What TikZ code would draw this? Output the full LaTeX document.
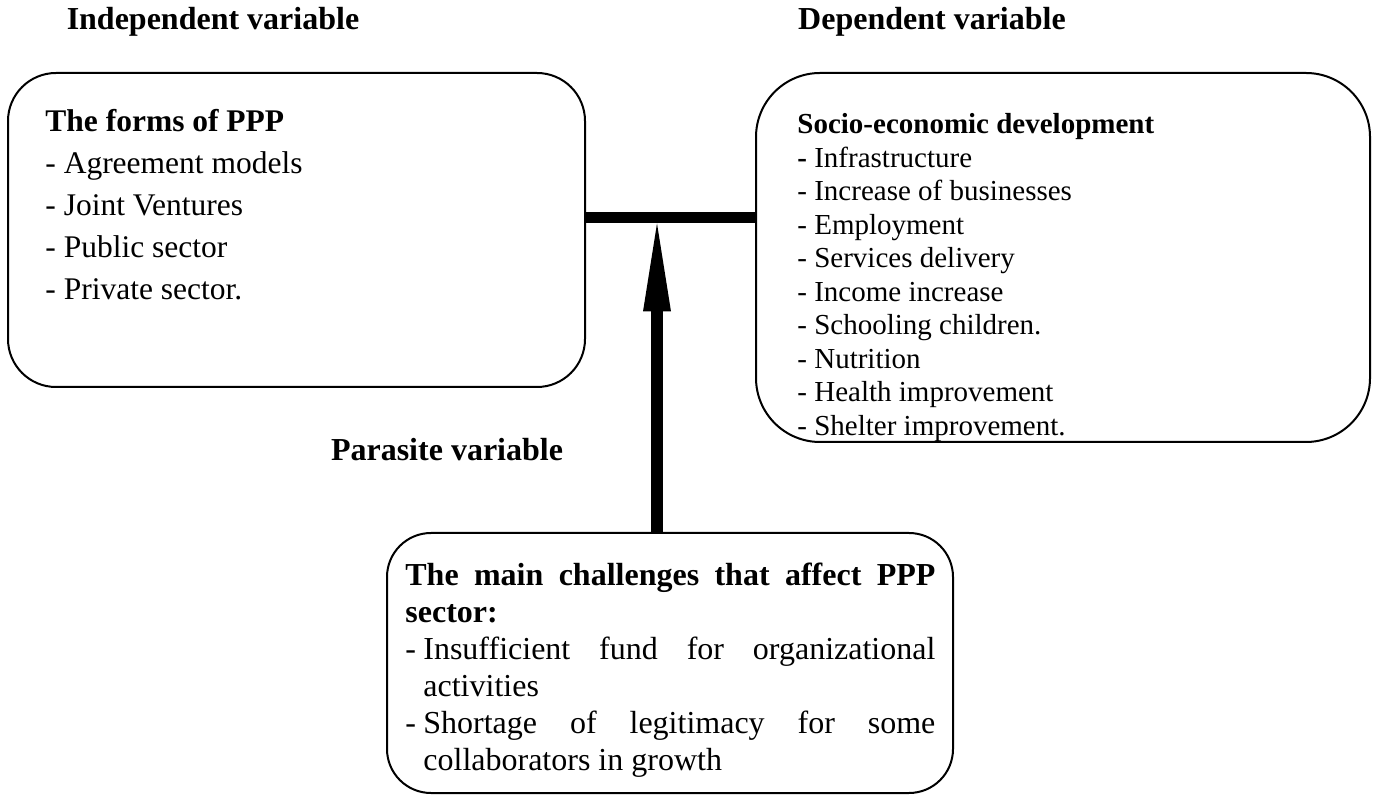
\documentclass[tikz,border=0pt]{standalone}
\usepackage{fontspec}
\setmainfont{Liberation Serif}
\usetikzlibrary{positioning,arrows.meta}
\tikzset{
  box/.style = {draw, line width=1pt, rounded corners=#1, inner sep=0pt},
  box/.default = 24pt,
  varlabel/.style = {font=\fontsize{16}{19}\selectfont\bfseries},
  boxtext/.style = {anchor=north west, inner sep=0pt, align=left},
  link/.style = {line width=5.5pt},
}

\begin{document}
\begin{tikzpicture}[x=0.5pt,y=-0.5pt]
  \useasboundingbox (0,0) rectangle (1380,795);
  % labels of the variables
  \node[varlabel] (indeplabel) at (213,22) {Independent variable};
  \node[varlabel] (deplabel) at (932,22) {Dependent variable};
  \node[varlabel] (paralabel) at (447,450) {Parasite variable};
  % the three boxes
  \node[box=24pt, minimum width=288.5pt, minimum height=157pt] (forms) at (296.5,230) {};
  \node[box=32pt, minimum width=307pt, minimum height=184.5pt] (socio) at (1063,257.5) {};
  \node[box=22pt, minimum width=283pt, minimum height=130pt] (challenges) at (670,663) {};
  % their texts
  \node[boxtext, font=\fontsize{15.75}{21}\selectfont] (formstext) at (45,109)
    {\textbf{The forms of PPP}\\- Agreement models\\- Joint Ventures\\- Public sector\\- Private sector.};
  \node[boxtext, font=\fontsize{14.5}{16.75}\selectfont] (sociotext) at (797,113)
    {\textbf{Socio-economic development}\\\textbf{-} Infrastructure\\- Increase of businesses\\
     - Employment\\- Services delivery\\- Income increase\\- Schooling children.\\
     - Nutrition\\- Health improvement\\- Shelter improvement.};
  \node[boxtext, text width=265pt, align=justify,
        font=\fontsize{16}{18.5}\selectfont] (challengestext) at (405,563)
    {\tolerance=10000\hyphenpenalty=10000
     \textbf{The main challenges that affect PPP\linebreak sector:}\par
     \hangindent=9pt\hangafter=1\makebox[9pt][l]{-}Insufficient fund for organizational\linebreak activities\par
     \hangindent=9pt\hangafter=1\makebox[9pt][l]{-}Shortage of legitimacy for some\linebreak collaborators in growth\par};
  % connectors
  \coordinate (junction) at (657,218);
  \draw[link] (forms.east |- junction) -- (socio.west |- junction);
  \draw[line width=6pt, -{Triangle[length=44pt,width=14pt,line width=0pt]}]
    (junction |- challenges.north) -- ([yshift=-2.75pt]junction);
\end{tikzpicture}
\end{document}
